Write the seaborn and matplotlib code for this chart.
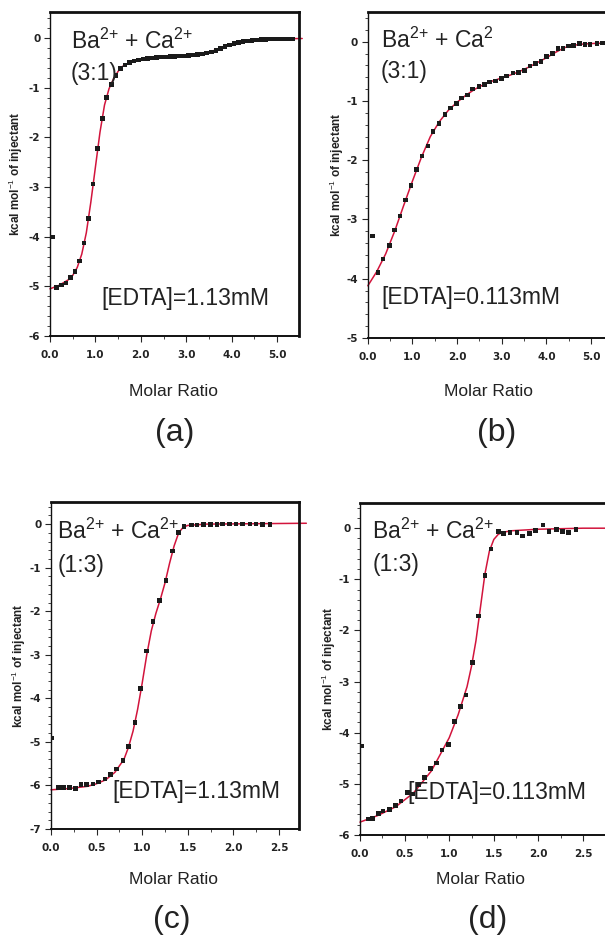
import numpy as np
import matplotlib
matplotlib.use("Agg")
import matplotlib.pyplot as plt
import seaborn as sns
from matplotlib.ticker import MultipleLocator

sns.set_theme(style="ticks")
plt.rcParams['font.family'] = ['Liberation Sans', 'DejaVu Sans']
plt.rcParams['mathtext.fontset'] = 'custom'
plt.rcParams['mathtext.rm'] = 'Liberation Sans'
plt.rcParams['mathtext.it'] = 'Liberation Sans'

#%% data
# (a) Ba2+ + Ca2+ (3:1), [EDTA]=1.13mM
a_x = [0.06, 0.15, 0.25, 0.35, 0.45, 0.55, 0.65, 0.75, 0.85, 0.95, 1.05, 1.15, 1.25, 1.35,
       1.45, 1.55, 1.65, 1.75, 1.85, 1.95, 2.05, 2.15, 2.25, 2.35, 2.45, 2.55, 2.65, 2.75,
       2.85, 2.95, 3.05, 3.15, 3.25, 3.35, 3.45, 3.55, 3.65, 3.75, 3.85, 3.95, 4.05, 4.15,
       4.25, 4.35, 4.45, 4.55, 4.65, 4.75, 4.85, 4.95, 5.05, 5.15, 5.25, 5.35]
a_y = [-4.01, -5.02, -4.97, -4.93, -4.82, -4.70, -4.49, -4.13, -3.63, -2.94, -2.23, -1.62, -1.20, -0.94,
       -0.75, -0.62, -0.54, -0.49, -0.46, -0.44, -0.42, -0.41, -0.40, -0.39, -0.38, -0.38, -0.37, -0.37,
       -0.36, -0.36, -0.35, -0.34, -0.33, -0.32, -0.30, -0.28, -0.25, -0.21, -0.17, -0.14, -0.11, -0.09,
       -0.07, -0.06, -0.05, -0.04, -0.03, -0.03, -0.02, -0.02, -0.02, -0.02, -0.02, -0.02]
a_fit_x = [0.0, 0.2, 0.4, 0.5, 0.6, 0.7, 0.8, 0.9, 1.0, 1.1, 1.2, 1.3, 1.4, 1.5, 1.6, 1.8,
           2.0, 2.5, 3.0, 3.3, 3.5, 3.7, 3.9, 4.1, 4.4, 4.8, 5.55]
a_fit_y = [-5.05, -4.98, -4.87, -4.78, -4.62, -4.35, -3.92, -3.30, -2.60, -1.90, -1.35, -1.02, -0.82, -0.67, -0.57, -0.48,
           -0.43, -0.38, -0.35, -0.32, -0.29, -0.22, -0.15, -0.10, -0.05, -0.02, -0.01]

# (b) Ba2+ + Ca2 (3:1), [EDTA]=0.113mM
b_x = [0.10, 0.23, 0.34, 0.48, 0.60, 0.72, 0.84, 0.97, 1.09, 1.21, 1.35, 1.46, 1.59, 1.73,
       1.85, 1.98, 2.10, 2.23, 2.35, 2.49, 2.61, 2.73, 2.86, 2.99, 3.11, 3.25, 3.38, 3.51,
       3.63, 3.76, 3.88, 4.00, 4.13, 4.26, 4.37, 4.49, 4.61, 4.74, 4.86, 4.98, 5.13, 5.26]
b_y = [-3.28, -3.90, -3.67, -3.44, -3.18, -2.94, -2.67, -2.43, -2.16, -1.93, -1.76, -1.52, -1.38, -1.23,
       -1.12, -1.04, -0.95, -0.90, -0.80, -0.76, -0.72, -0.68, -0.66, -0.62, -0.58, -0.53, -0.52, -0.48,
       -0.41, -0.37, -0.33, -0.25, -0.20, -0.11, -0.11, -0.07, -0.06, -0.03, -0.05, -0.05, -0.03, -0.02]
b_fit_x = [0.0, 0.2, 0.4, 0.6, 0.8, 1.0, 1.2, 1.4, 1.6, 1.8, 2.0, 2.2, 2.4, 2.6, 2.8, 3.0,
           3.2, 3.4, 3.6, 3.8, 4.0, 4.2, 4.4, 4.6, 4.8, 5.0, 5.4]
b_fit_y = [-4.12, -3.88, -3.58, -3.20, -2.77, -2.35, -1.95, -1.60, -1.35, -1.16, -1.02, -0.90, -0.80, -0.72, -0.66, -0.61,
           -0.56, -0.50, -0.43, -0.35, -0.27, -0.18, -0.10, -0.06, -0.04, -0.03, -0.02]

# (c) Ba2+ + Ca2+ (1:3), [EDTA]=1.13mM
c_x = [0.01, 0.08, 0.14, 0.20, 0.27, 0.33, 0.39, 0.46, 0.52, 0.59, 0.65, 0.72, 0.79, 0.85,
       0.92, 0.98, 1.05, 1.12, 1.19, 1.26, 1.33, 1.40, 1.46, 1.54, 1.60, 1.67, 1.75, 1.82,
       1.88, 1.96, 2.03, 2.10, 2.18, 2.25, 2.32, 2.40]
c_y = [-4.91, -6.04, -6.04, -6.04, -6.07, -5.98, -5.98, -5.97, -5.92, -5.85, -5.75, -5.62, -5.42, -5.10,
       -4.55, -3.77, -2.91, -2.24, -1.76, -1.30, -0.62, -0.19, -0.05, -0.02, -0.02, -0.01, -0.01, -0.01,
       0.0, 0.0, 0.0, 0.0, 0.0, 0.0, -0.01, -0.01]
c_fit_x = [0.0, 0.2, 0.4, 0.5, 0.6, 0.7, 0.8, 0.85, 0.9, 0.95, 1.0, 1.05, 1.1, 1.15, 1.2, 1.25,
           1.3, 1.35, 1.4, 1.45, 1.5, 1.7, 2.8]
c_fit_y = [-6.10, -6.07, -6.02, -5.96, -5.87, -5.70, -5.40, -5.12, -4.75, -4.25, -3.65, -3.00, -2.45, -2.05, -1.72, -1.35,
           -0.90, -0.50, -0.20, -0.07, -0.03, 0.0, 0.02]

# (d) Ba2+ + Ca2+ (1:3), [EDTA]=0.113mM
d_x = [0.015, 0.09, 0.14, 0.21, 0.26, 0.33, 0.40, 0.46, 0.53, 0.59, 0.66, 0.72, 0.79, 0.86,
       0.92, 0.99, 1.06, 1.13, 1.19, 1.26, 1.33, 1.40, 1.47, 1.55, 1.61, 1.68, 1.76, 1.82,
       1.90, 1.97, 2.05, 2.12, 2.20, 2.27, 2.34, 2.42]
d_y = [-4.26, -5.69, -5.68, -5.58, -5.53, -5.50, -5.43, -5.34, -5.17, -5.20, -5.01, -4.88, -4.70, -4.59,
       -4.34, -4.23, -3.78, -3.49, -3.26, -2.63, -1.72, -0.93, -0.41, -0.07, -0.10, -0.08, -0.08, -0.15,
       -0.10, -0.05, 0.06, -0.06, -0.03, -0.06, -0.08, -0.03]
d_fit_x = [0.0, 0.2, 0.4, 0.6, 0.8, 1.0, 1.1, 1.2, 1.25, 1.3, 1.35, 1.4, 1.45, 1.5, 1.55, 1.6,
           1.7, 2.0, 2.5, 2.8]
d_fit_y = [-5.75, -5.62, -5.45, -5.18, -4.75, -4.10, -3.65, -3.10, -2.70, -2.20, -1.55, -0.90, -0.45, -0.22, -0.12, -0.08,
           -0.05, -0.02, 0.0, 0.0]

# label positions in pixels (x centre, y of "Molar Ratio", y of panel letter)
panels = [
    dict(x=a_x, y=a_y, fx=a_fit_x, fy=a_fit_y, rect=[0.0826, 0.641, 0.4116, 0.346],
         xlim=(0, 5.48), ylim=(-6, 0.52), xmaj=1.0, xmin=0.5,
         t1=("Ba$^{2{+}}$ + Ca$^{2{+}}$", 0.46, -0.21), t2=("(3:1)", 0.46, -0.85),
         t3=("[EDTA]=1.13mM", 1.13, -5.38), lab="(a)",
         mr=(173, 391), lp=(175, 433), ylx=16),
    dict(x=b_x, y=b_y, fx=b_fit_x, fy=b_fit_y, rect=[0.608, 0.639, 0.40, 0.348],
         xlim=(0, 5.42), ylim=(-5, 0.5), xmaj=1.0, xmin=0.5,
         t1=("Ba$^{2{+}}$ + Ca$^{2}$", 0.29, -0.10), t2=("(3:1)", 0.29, -0.61),
         t3=("[EDTA]=0.113mM", 0.31, -4.43), lab="(b)",
         mr=(489, 391), lp=(497, 433), ylx=337),
    dict(x=c_x, y=c_y, fx=c_fit_x, fy=c_fit_y, rect=[0.0843, 0.1143, 0.41, 0.349],
         xlim=(0, 2.72), ylim=(-7, 0.5), xmaj=0.5, xmin=0.25,
         t1=("Ba$^{2{+}}$ + Ca$^{2{+}}$", 0.07, -0.33), t2=("(1:3)", 0.07, -1.09),
         t3=("[EDTA]=1.13mM", 0.67, -6.29), lab="(c)",
         mr=(173, 880), lp=(172, 920), ylx=19),
    dict(x=d_x, y=d_y, fx=d_fit_x, fy=d_fit_y, rect=[0.595, 0.108, 0.41, 0.355],
         xlim=(0, 2.78), ylim=(-6, 0.5), xmaj=0.5, xmin=0.25,
         t1=("Ba$^{2{+}}$ + Ca$^{2{+}}$", 0.14, -0.20), t2=("(1:3)", 0.14, -0.83),
         t3=("[EDTA]=0.113mM", 0.53, -5.30), lab="(d)",
         mr=(480, 880), lp=(488, 920), ylx=329),
]

W, H = 605, 936
fig = plt.figure(figsize=(W / 100, H / 100), dpi=100)

for p in panels:
    ax = fig.add_axes(p['rect'])
    sns.lineplot(x=p['fx'], y=p['fy'], ax=ax, color='#d2143c', lw=1.1,
                 estimator=None, sort=False, zorder=2)
    for ln in ax.lines:
        ln.set_clip_on(False)
    sns.scatterplot(x=p['x'], y=p['y'], ax=ax, marker='s', s=11, color='#1a1a1a',
                    edgecolor='none', linewidth=0, zorder=3)
    ax.set_xlim(p['xlim'])
    ax.set_ylim(p['ylim'])
    ax.xaxis.set_major_locator(MultipleLocator(p['xmaj']))
    ax.xaxis.set_minor_locator(MultipleLocator(p['xmin']))
    ax.yaxis.set_major_locator(MultipleLocator(1))
    ax.yaxis.set_minor_locator(MultipleLocator(0.2))
    ax.xaxis.set_major_formatter(matplotlib.ticker.FormatStrFormatter('%.1f'))
    ax.yaxis.set_major_formatter(matplotlib.ticker.FuncFormatter(lambda v, pos: '%d' % round(v)))
    ax.tick_params(axis='both', which='major', direction='out', length=4, width=0.8,
                   labelsize=7.5, pad=3)
    ax.tick_params(axis='x', which='major', pad=6)
    ax.tick_params(axis='both', which='minor', direction='out', length=2, width=0.6)
    for lbl in ax.get_xticklabels() + ax.get_yticklabels():
        lbl.set_fontweight('bold')
        lbl.set_family('DejaVu Sans')
        lbl.set_color('#222222')
    for side, w in [('left', 1.0), ('bottom', 1.4), ('top', 2.0), ('right', 2.0)]:
        ax.spines[side].set_visible(True)
        ax.spines[side].set_linewidth(w)
        ax.spines[side].set_color('#111111')
    ax.set_xlabel('')
    ax.set_ylabel('')
    for txt, tx, ty in (p['t1'], p['t2'], p['t3']):
        ax.text(tx, ty, txt, fontsize=16.5, color='#222222', va='baseline', ha='left', zorder=4)

    l, b, w, h = p['rect']
    fig.text(p['ylx'] / W, b + h / 2, "kcal mol$^{-1}$ of injectant", rotation=90, ha='center',
             va='center', fontsize=8.5, fontweight='bold', color='#222222')
    fig.text(p['mr'][0] / W, 1 - p['mr'][1] / H, "Molar Ratio", ha='center', va='center',
             fontsize=12.5, color='#222222')
    fig.text(p['lp'][0] / W, 1 - p['lp'][1] / H, p['lab'], ha='center', va='center',
             fontsize=23, color='#222222')

fig.savefig('out.png', dpi=100)
